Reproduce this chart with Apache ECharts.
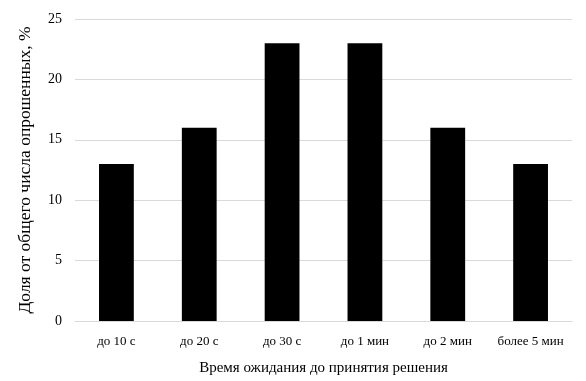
<!DOCTYPE html>
<html>
<head>
<meta charset="utf-8">
<script src="https://cdn.jsdelivr.net/npm/echarts@6/dist/echarts.min.js"></script>
<style>
  html, body { margin: 0; padding: 0; background: #fff; }
  #chart { width: 586px; height: 381px; }
</style>
</head>
<body>
<div id="chart"></div>
<script>
// Waiting time before making a decision vs. share of respondents
const categories = ['до 10 с', 'до 20 с', 'до 30 с', 'до 1 мин', 'до 2 мин', 'более 5 мин'];
const shares = [13, 16, 23, 23, 16, 13];
const yTicks = { min: 0, max: 25, interval: 5 };

const font = '"Liberation Serif", "DejaVu Serif", serif';

const chart = echarts.init(document.getElementById('chart'), null, { renderer: 'canvas' });
chart.setOption({
  animation: false,
  backgroundColor: '#ffffff',
  grid: { left: 75, right: 14, top: 19, bottom: 57, containLabel: false },
  xAxis: {
    type: 'category',
    data: categories,
    name: 'Время ожидания до принятия решения',
    nameLocation: 'middle',
    nameGap: 40,
    nameTextStyle: { fontFamily: font, fontSize: 15, color: '#000' },
    axisLine: { show: true, lineStyle: { color: '#d9d9d9', width: 1 } },
    axisTick: { show: false },
    axisLabel: { fontFamily: font, fontSize: 13, color: '#000', margin: 14, interval: 0 }
  },
  yAxis: {
    type: 'value',
    min: yTicks.min,
    max: yTicks.max,
    interval: yTicks.interval,
    name: 'Доля от общего числа опрошенных, %',
    nameLocation: 'middle',
    nameGap: 41,
    nameRotate: 90,
    nameTextStyle: { fontFamily: font, fontSize: 17.5, color: '#000' },
    axisLine: { show: false },
    axisTick: { show: false },
    axisLabel: { fontFamily: font, fontSize: 14, color: '#000', margin: 13 },
    splitLine: { show: true, lineStyle: { color: '#d9d9d9', width: 1 } }
  },
  series: [{
    type: 'bar',
    data: shares,
    barWidth: '42%',
    itemStyle: { color: '#000000' }
  }]
});
</script>
</body>
</html>
